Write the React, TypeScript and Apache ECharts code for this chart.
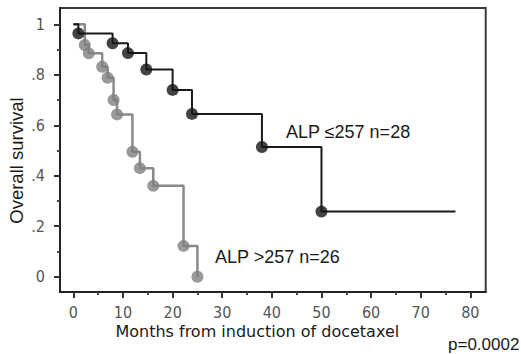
import React, { useEffect, useRef } from "react";
import * as echarts from "echarts";

// Axis ticks
const xMajorTicks = [0, 10, 20, 30, 40, 50, 60, 70, 80];
const xMinorTicks = [5, 15, 25, 35, 45, 55, 65, 75];
const yMajorTicks = [0, 0.2, 0.4, 0.6, 0.8, 1];
const yTickLabels = ["0", ".2", ".4", ".6", ".8", "1"];
const yMinorTicks = [0.1, 0.3, 0.5, 0.7, 0.9];

// ALP <=257 (n=28)
const lowTimes = [0, 1, 7.9, 11, 14.7, 20, 23.9, 38, 50, 77];
const lowSurv = [1, 0.964, 0.925, 0.886, 0.821, 0.74, 0.645, 0.514, 0.258, 0.258];
// ALP >257 (n=26)
const highTimes = [0, 2.3, 3.1, 5.8, 6.9, 8.1, 8.8, 11.9, 13.4, 16.1, 22.2, 25];
const highSurv = [1, 0.918, 0.885, 0.832, 0.788, 0.7, 0.643, 0.495, 0.43, 0.36, 0.122, 0];

const lowLabel = "ALP \u2264257 n=28";
const highLabel = "ALP >257 n=26";
const xName = "Months from induction of docetaxel";
const yName = "Overall survival";
const pText = "p=0.0002";

const X_MIN = -2.7;
const X_MAX = 83.1;
const Y_MIN = -0.0606;
const Y_MAX = 1.0646;

const tickFont = "'DejaVu Sans Condensed', 'Liberation Sans Narrow', 'DejaVu Sans', sans-serif";

export default function App() {
  const ref = useRef<HTMLDivElement>(null);
  useEffect(() => {
    if (!ref.current) return;
    const chart = echarts.init(ref.current, undefined, { renderer: "svg" });
    const lowData = lowTimes.map((t, i) => [t, lowSurv[i]]);
    const highData = highTimes.map((t, i) => [t, highSurv[i]]);
    const lowEvents = lowData.slice(1, lowData.length - 1);
    const highEvents = highData.slice(1);
    chart.setOption({
      animation: false,
      grid: {
        left: 60,
        right: 35.3,
        top: 8,
        bottom: 62,
        show: true,
        borderColor: "#3a3a3a",
        borderWidth: 2,
        backgroundColor: "transparent",
      },
      xAxis: [
        {
          type: "value",
          min: X_MIN,
          max: X_MAX,
          position: "bottom",
          splitLine: { show: false },
          axisLine: { show: true, onZero: false, lineStyle: { color: "#222", width: 2 } },
          axisTick: { show: true, customValues: xMajorTicks, length: 6, lineStyle: { color: "#333", width: 2 } },
          axisLabel: {
            customValues: xMajorTicks,
            margin: 12,
            color: "#555",
            fontSize: 16,
            fontFamily: tickFont,
          },
        },
        {
          type: "value",
          min: X_MIN,
          max: X_MAX,
          position: "bottom",
          offset: 0,
          splitLine: { show: false },
          axisLine: { show: false, onZero: false },
          axisTick: { show: true, customValues: xMinorTicks, length: 3, lineStyle: { color: "#444", width: 2 } },
          axisLabel: { show: false },
        },
      ],
      yAxis: [
        {
          type: "value",
          min: Y_MIN,
          max: Y_MAX,
          position: "left",
          splitLine: { show: false },
          axisLine: { show: true, onZero: false, lineStyle: { color: "#222", width: 2 } },
          axisTick: { show: true, customValues: yMajorTicks, length: 6, lineStyle: { color: "#333", width: 2 } },
          axisLabel: {
            customValues: yMajorTicks,
            margin: 15,
            color: "#555",
            fontSize: 16,
            fontFamily: tickFont,
            formatter: (v: number) => {
              const idx = yMajorTicks.findIndex((t) => Math.abs(t - v) < 1e-6);
              return idx >= 0 ? yTickLabels[idx] : "";
            },
          },
        },
        {
          type: "value",
          min: Y_MIN,
          max: Y_MAX,
          position: "left",
          offset: 0,
          splitLine: { show: false },
          axisLine: { show: false, onZero: false },
          axisTick: { show: true, customValues: yMinorTicks, length: 3, lineStyle: { color: "#444", width: 2 } },
          axisLabel: { show: false },
        },
      ],
      series: [
        {
          type: "line",
          step: "end",
          data: highData,
          symbol: "none",
          lineStyle: { color: "#8a8a8a", width: 2.5 },
          z: 2,
        },
        {
          type: "scatter",
          data: highEvents,
          symbolSize: 12,
          itemStyle: { color: "#808080" },
          z: 3,
        },
        {
          type: "line",
          step: "end",
          data: lowData,
          symbol: "none",
          lineStyle: { color: "#1a1a1a", width: 2 },
          z: 4,
        },
        {
          type: "scatter",
          data: lowEvents,
          symbolSize: 12,
          itemStyle: { color: "#141414" },
          z: 5,
        },
      ],
      graphic: [
        {
          type: "text",
          x: 286,
          y: 131.5,
          style: { text: lowLabel, font: "18px 'Liberation Sans', Arial, sans-serif", fill: "#1a1a1a", verticalAlign: "middle" },
        },
        {
          type: "text",
          x: 215,
          y: 256.5,
          style: { text: highLabel, font: "18px 'Liberation Sans', Arial, sans-serif", fill: "#1a1a1a", verticalAlign: "middle" },
        },
        {
          type: "text",
          x: 257.3,
          y: 331,
          style: { text: xName, font: "16px 'DejaVu Sans', sans-serif", fill: "#1a1a1a", align: "center", verticalAlign: "middle" },
        },
        {
          type: "text",
          x: 16.5,
          y: 160.5,
          rotation: Math.PI / 2,
          style: { text: yName, font: "18.5px 'Liberation Sans', Arial, sans-serif", fill: "#1a1a1a", align: "center", verticalAlign: "middle" },
        },
        {
          type: "text",
          x: 448,
          y: 344,
          style: { text: pText, font: "17px 'Liberation Sans', Arial, sans-serif", fill: "#1a1a1a", verticalAlign: "middle" },
        },
      ],
    });
    return () => chart.dispose();
  }, []);
  return <div ref={ref} style={{ width: 521, height: 354, position: "absolute", left: 0, top: 0 }} />;
}
